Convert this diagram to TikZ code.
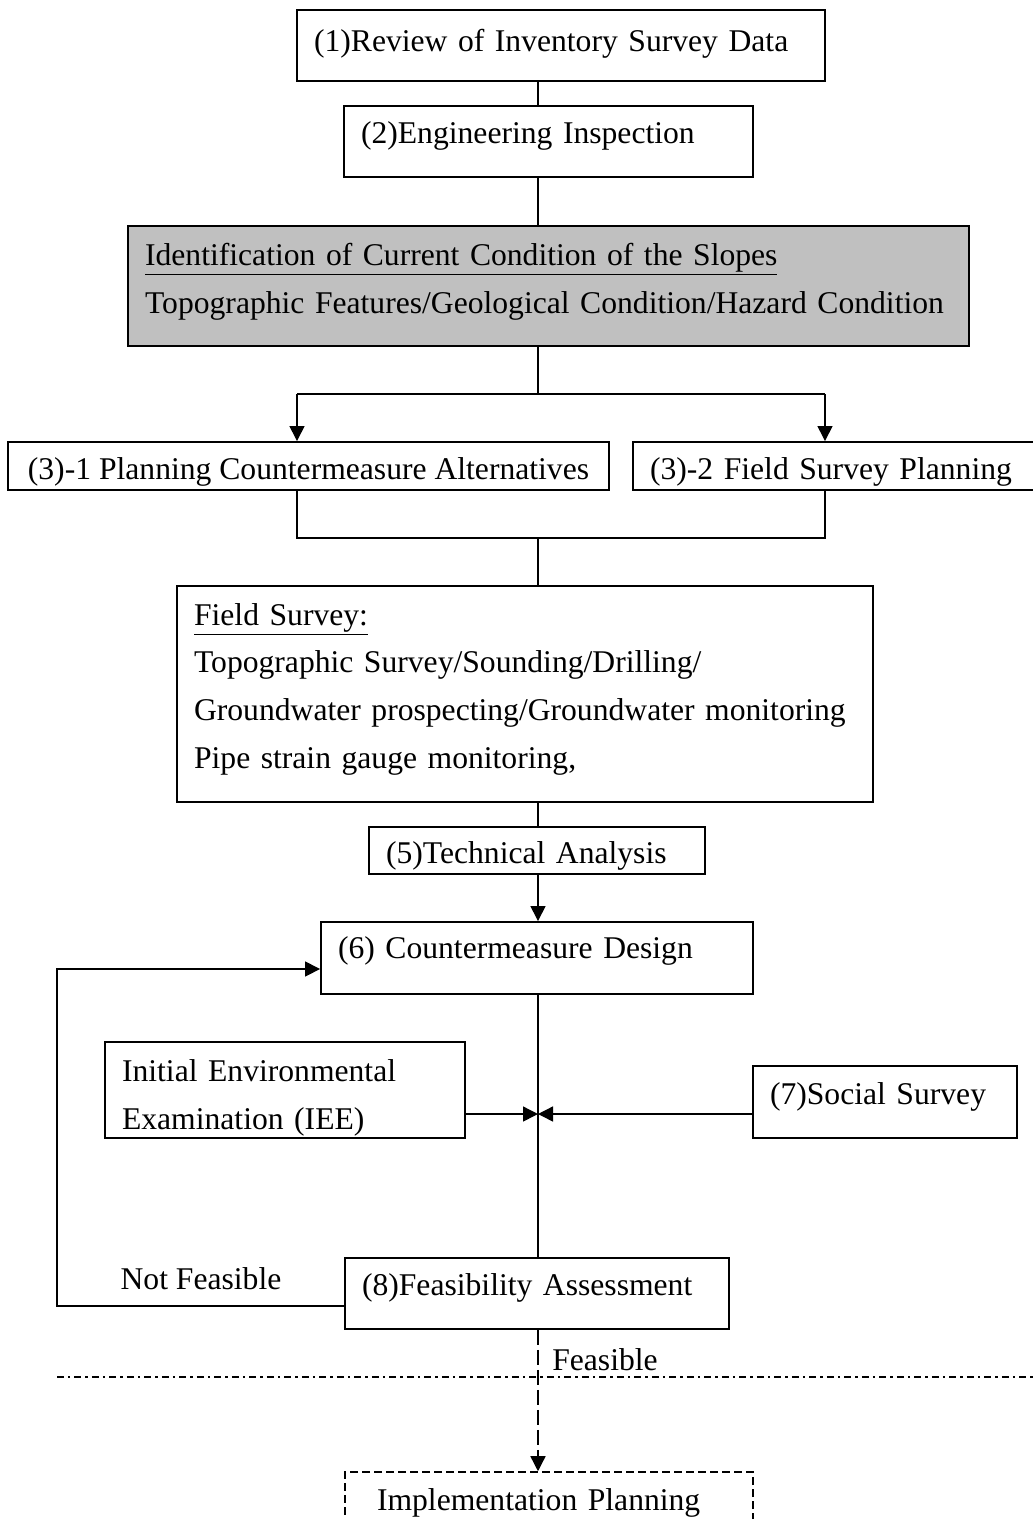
\documentclass[tikz,border=0pt]{standalone}
\usepackage{fontspec}
\setmainfont{Liberation Serif}
\usetikzlibrary{arrows.meta}
\definecolor{slopeGray}{RGB}{192,192,192}

\tikzset{
  box/.style={draw, line width=1.1pt, inner xsep=0.34cm, inner ysep=0pt, align=left},
  link/.style={line width=0.8pt},
  arr/.style={line width=0.8pt, -{Triangle[length=0.3cm, width=0.3cm]}},
}

\begin{document}
\begin{tikzpicture}[x=0.02cm, y=-0.02cm, font=\fontsize{18}{27.3}\selectfont]
\useasboundingbox (0,0) rectangle (1033,1519);

% Helper points
\coordinate (spine) at (538,0);
\coordinate (splitL) at (297,394);
\coordinate (splitR) at (825,394);
\coordinate (joinL) at (297,538);
\coordinate (joinR) at (825,538);
\coordinate (meet) at (538,1114);
\coordinate (backB) at (57,1306);
\coordinate (backT) at (57,969);
\coordinate (sepL) at (57,1377);
\coordinate (sepR) at (1033,1377);

% Boxes
\node (review) at (561,45.5) [box, minimum width=10.56cm, minimum height=1.42cm, text width=9.88cm, text height=0.40cm, text depth=0.18cm] {(1)Review of Inventory Survey Data};
\node (inspect) at (548.5,141.5) [box, minimum width=8.18cm, minimum height=1.42cm, text width=7.50cm, text height=0.32cm, text depth=0.26cm] {(2)Engineering Inspection};
\node (condition) at (548.5,286) [box, fill=slopeGray, minimum width=16.82cm, minimum height=2.4cm, text width=16.14cm, text height=0.44cm, text depth=1.26cm] {\underline{Identification of Current Condition of the Slopes}\\Topographic Features/Geological Condition/Hazard Condition};
\node (alternative) at (308.5,466) [box, minimum width=12.02cm, minimum height=0.96cm, text height=0.56cm, text depth=0.02cm] {(3)-1 Planning Countermeasure Alternatives};
\node (surveyplan) at (836.5,466) [box, minimum width=8.14cm, minimum height=0.96cm, text width=7.46cm, text height=0.56cm, text depth=0.02cm] {(3)-2 Field Survey Planning};
\node (fieldsurvey) at (525,694) [box, minimum width=13.92cm, minimum height=4.32cm, text width=13.24cm, text height=0.44cm, text depth=3.2cm] {\underline{Field Survey:}\\Topographic Survey/Sounding/Drilling/\\Groundwater prospecting/Groundwater monitoring\\Pipe strain gauge monitoring,};
\node (analysis) at (537,850.5) [box, minimum width=6.72cm, minimum height=0.94cm, text width=6.04cm, text height=0.54cm, text depth=0.04cm] {(5)Technical Analysis};
\node (design) at (537,958) [box, minimum width=8.64cm, minimum height=1.44cm, text width=7.96cm, text height=0.29cm, text depth=0.29cm] {(6) Countermeasure Design};
\node (iee) at (285,1090) [box, minimum width=7.2cm, minimum height=1.92cm, text width=6.52cm, text height=0.76cm, text depth=1.1cm] {Initial Environmental\\Examination (IEE)};
\node (social) at (885,1102) [box, minimum width=5.28cm, minimum height=1.44cm, text width=4.60cm, text height=0.33cm, text depth=0.25cm] {(7)Social Survey};
\node (feasib) at (537,1293.5) [box, minimum width=7.68cm, minimum height=1.42cm, text width=7.00cm, text height=0.32cm, text depth=0.26cm] {(8)Feasibility Assessment};
\node (implement) at (549,1502.5) [box, line width=0.9pt, dash pattern=on 0.16cm off 0.08cm, inner xsep=0.64cm, minimum width=8.16cm, minimum height=1.22cm, text width=6.88cm] {Implementation Planning};

% Labels
\node (notfeasible) at (201,1278.5) {Not Feasible};
\node (feasible) at (605,1360) {Feasible};

% Main flow
\draw [link] (review.south -| spine) -- (inspect.north -| spine);
\draw [link] (inspect.south -| spine) -- (condition.north -| spine);
\draw [link] (condition.south -| spine) -- (spine |- splitL);
\draw [link] (splitL) -- (splitR);
\draw [arr] (splitL) -- (splitL |- alternative.north);
\draw [arr] (splitR) -- (splitR |- surveyplan.north);
\draw [link] (alternative.south -| joinL) -- (joinL) -- (joinR) -- (surveyplan.south -| joinR);
\draw [link] (spine |- joinL) -- (fieldsurvey.north -| spine);
\draw [link] (fieldsurvey.south -| spine) -- (analysis.north -| spine);
\draw [arr] (analysis.south -| spine) -- (design.north -| spine);
\draw [link] (design.south -| spine) -- (feasib.north -| spine);

% Side inputs
\draw [arr] (iee.east |- meet) -- (meet);
\draw [arr] (social.west |- meet) -- (meet);

% Feedback loop
\draw [arr] (feasib.west |- backB) -- (backB) -- (backT) -- (design.west |- backT);

% Feasible branch
\draw [arr, dash pattern=on 0.3cm off 0.1cm] (feasib.south -| spine) -- (implement.north -| spine);
\draw [link, dash pattern=on 0.14cm off 0.08cm on 0.05cm off 0.08cm] (sepL) -- (sepR);

\end{tikzpicture}
\end{document}
